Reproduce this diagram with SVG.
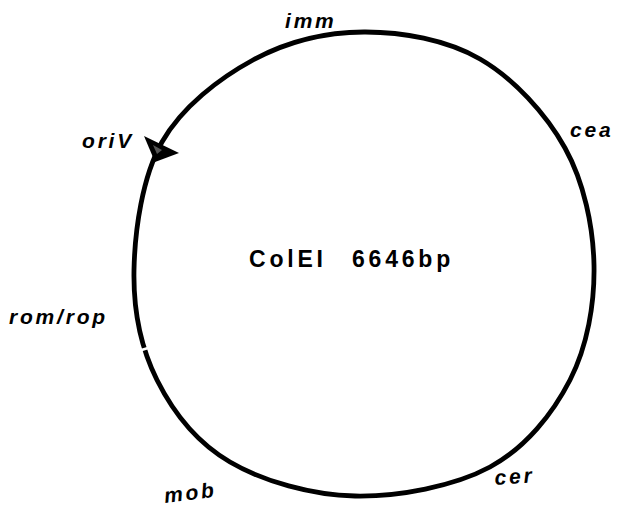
<svg xmlns="http://www.w3.org/2000/svg" width="624" height="513" viewBox="0 0 624 513">
  <style>
    .ring { fill: none; stroke: #000; stroke-width: 4.8; stroke-linejoin: round; }
    .gap { stroke: #fff; stroke-width: 2.6; }
    .lbl { font-family: "Liberation Sans", Arial, sans-serif; font-size: 21px; font-style: italic; font-weight: bold; letter-spacing: 2.8px; fill: #000; }
    .title { font-family: "Liberation Sans", Arial, sans-serif; font-size: 23px; font-weight: bold; letter-spacing: 3.8px; fill: #000; }
  </style>

  <!-- plasmid map backbone -->
  <g id="connectors">
    <path class="ring" d="M364,32 C401.8,31.8 446.5,39.7 480,59 C513.5,78.3 546,113.7 565,148 C584,182.3 593.2,226.3 594,265 C594.8,303.7 587.3,346.3 570,380 C552.7,413.7 525.8,447.7 490,467 C454.2,486.3 398.3,496.8 355,496 C311.7,495.2 263,481.3 230,462 C197,442.7 173,412 157,380 C141,348 133.2,309.7 134,270 C134.8,230.3 142.2,177 162,142 C181.8,107 219.3,78.3 253,60 C286.7,41.7 326.2,32.2 364,32 Z"/>
    <!-- small break in the ring near rom/rop -->
    <line class="gap" x1="139.1" y1="350.8" x2="150.5" y2="347.2"/>
  </g>

  <g id="oriV">
    <polygon points="144,136 179,153 155,162" fill="#000"/>
    <polygon points="153,145 162,150 157,154" fill="#555"/>
    <text class="lbl" x="82" y="148">oriV</text>
  </g>

  <g id="imm">
    <text class="lbl" x="285" y="28">imm</text>
  </g>

  <g id="cea">
    <text class="lbl" x="570" y="137">cea</text>
  </g>

  <g id="rom-rop">
    <text class="lbl" x="9" y="324">rom/rop</text>
  </g>

  <g id="mob">
    <text class="lbl" x="165" y="503" transform="rotate(-7 165 503)">mob</text>
  </g>

  <g id="cer">
    <text class="lbl" x="495" y="485" transform="rotate(-4 495 485)">cer</text>
  </g>

  <g id="title">
    <text class="title" y="267"><tspan x="249">ColEI</tspan><tspan x="352">6646bp</tspan></text>
  </g>
</svg>
